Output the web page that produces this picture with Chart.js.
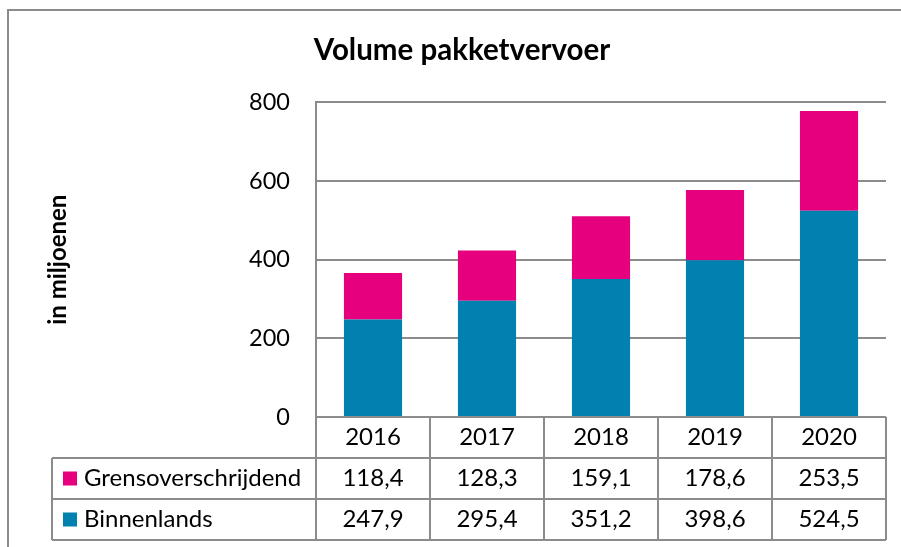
<!DOCTYPE html>
<html>
<head>
<meta charset="utf-8">
<script src="https://cdn.jsdelivr.net/npm/chart.js@4"></script>
<style>
  html, body { margin: 0; padding: 0; background: #fff; }
  #wrap { width: 901px; height: 547px; }
</style>
</head>
<body>
<div id="wrap"><canvas id="chart" width="901" height="547"></canvas></div>
<script>
// data
const years = ['2016', '2017', '2018', '2019', '2020'];
const binnenlands = [247.9, 295.4, 351.2, 398.6, 524.5];
const grensoverschrijdend = [118.4, 128.3, 159.1, 178.6, 253.5];
const yTicks = [0, 200, 400, 600, 800];

const FONT = 'Lato, "Open Sans", sans-serif';
const LINE = '#8c8c8c';
const fmt = (v) => v.toFixed(1).replace('.', ',');

// frame + data table under the plot, aligned to the x scale
const tablePlugin = {
  id: 'dataTable',
  beforeDraw(chart) {
    const ctx = chart.ctx;
    ctx.save();
    ctx.strokeStyle = LINE;
    ctx.lineWidth = 2;
    ctx.beginPath();
    ctx.moveTo(8, 547);
    ctx.lineTo(8, 10);
    ctx.lineTo(901, 10);
    ctx.stroke();
    ctx.restore();
  },
  afterDraw(chart) {
    const { ctx, chartArea } = chart;
    const x = chart.scales.x;
    const n = years.length;
    const colW = (chartArea.right - chartArea.left) / n;
    const rowH = 41;
    const top = chartArea.bottom;
    const labelLeft = 52;
    const rows = [
      { label: 'Grensoverschrijdend', color: '#e6007e', values: grensoverschrijdend },
      { label: 'Binnenlands', color: '#0081b0', values: binnenlands },
    ];

    ctx.save();
    ctx.strokeStyle = LINE;
    ctx.lineWidth = 2;
    ctx.beginPath();
    // horizontal lines
    ctx.moveTo(labelLeft, top + rowH);
    ctx.lineTo(chartArea.right, top + rowH);
    ctx.moveTo(labelLeft, top + rowH * 2);
    ctx.lineTo(chartArea.right, top + rowH * 2);
    ctx.moveTo(labelLeft, top + rowH * 3);
    ctx.lineTo(chartArea.right, top + rowH * 3);
    // vertical lines
    ctx.moveTo(labelLeft, top + rowH);
    ctx.lineTo(labelLeft, top + rowH * 3);
    for (let i = 0; i <= n; i++) {
      const cx = i < n ? x.getPixelForValue(i) - colW / 2 : x.getPixelForValue(n - 1) + colW / 2;
      ctx.moveTo(cx, top);
      ctx.lineTo(cx, top + rowH * 3);
    }
    ctx.stroke();

    ctx.fillStyle = '#000';
    ctx.font = '24px ' + FONT;
    ctx.textAlign = 'center';
    ctx.textBaseline = 'middle';
    years.forEach((yr, i) => {
      ctx.fillText(yr, x.getPixelForValue(i), top + rowH / 2);
    });
    rows.forEach((r, ri) => {
      const cy = top + rowH * (ri + 1) + rowH / 2;
      ctx.fillStyle = r.color;
      ctx.fillRect(63, cy - 7, 14, 14);
      ctx.fillStyle = '#000';
      ctx.textAlign = 'left';
      ctx.fillText(r.label, 84, cy);
      ctx.textAlign = 'center';
      r.values.forEach((v, i) => {
        ctx.fillText(fmt(v), x.getPixelForValue(i), cy);
      });
    });
    ctx.restore();
  },
};

new Chart(document.getElementById('chart'), {
  type: 'bar',
  data: {
    labels: years,
    datasets: [
      {
        label: 'Binnenlands',
        data: binnenlands,
        backgroundColor: '#0081b0',
        borderWidth: 0,
      },
      {
        label: 'Grensoverschrijdend',
        data: grensoverschrijdend,
        backgroundColor: '#e6007e',
        borderWidth: 0,
      },
    ],
  },
  options: {
    responsive: false,
    animation: false,
    layout: { padding: { left: 38, right: 15, top: 0, bottom: 130 } },
    datasets: { bar: { categoryPercentage: 1, barPercentage: 0.51 } },
    plugins: {
      legend: { display: false },
      tooltip: { enabled: false },
      title: {
        display: true,
        text: 'Volume pakketvervoer',
        color: '#000',
        font: { family: FONT, size: 29.5, weight: 'bold' },
        padding: { top: 33, bottom: 34 },
      },
    },
    scales: {
      x: {
        stacked: true,
        display: false,
      },
      y: {
        stacked: true,
        min: 0,
        max: 800,
        afterBuildTicks: (scale) => {
          scale.ticks = yTicks.map((v) => ({ value: v }));
        },
        afterFit: (scale) => {
          scale.width = 278;
        },
        border: { display: true, color: LINE, width: 2 },
        grid: { color: LINE, lineWidth: 2, drawTicks: false },
        ticks: {
          color: '#000',
          padding: 26,
          font: { family: FONT, size: 23.5 },
        },
        title: {
          display: true,
          text: 'in miljoenen',
          color: '#000',
          font: { family: FONT, size: 24, weight: 'bold' },
          padding: { top: 6, bottom: 0 },
        },
      },
    },
  },
  plugins: [tablePlugin],
});
</script>
</body>
</html>
